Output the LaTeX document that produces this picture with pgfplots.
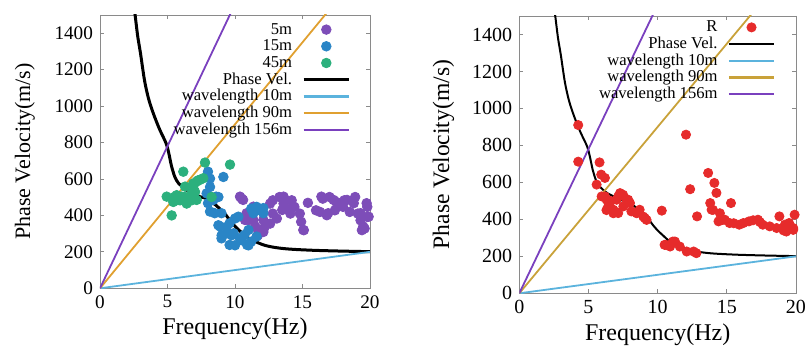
\documentclass[border=0pt]{standalone}
\usepackage{fontspec}
\setmainfont{Liberation Serif}
\usepackage{pgfplots}
\pgfplotsset{compat=1.18}
\definecolor{c5m}{HTML}{7D4DB8}
\definecolor{c15m}{HTML}{2A85C6}
\definecolor{c45m}{HTML}{2CB07D}
\definecolor{cwl10}{HTML}{5BB3DD}
\definecolor{cwl90}{HTML}{E0A030}
\definecolor{cwl90r}{HTML}{C9A23A}
\definecolor{cwl156}{HTML}{7A40BE}
\definecolor{cred}{HTML}{E62B2B}
\definecolor{axgray}{HTML}{8A8A8A}
\pgfplotsset{
 mystyle/.style={
  scale only axis, xmin=0,xmax=20,ymin=0,ymax=1500,
  xtick={0,5,10,15,20}, ytick={0,200,...,1400},
  tick align=inside, major tick length=2pt,
  axis line style={axgray}, every tick/.style={axgray},
  /pgf/number format/assume math mode=true,
  /pgf/number format/1000 sep={},
  ticklabel style={font=\fontsize{9.6}{10}\selectfont},
  legend style={draw=none, fill=none, anchor=north east, font=\fontsize{8.3}{8.3}\selectfont, inner sep=0pt, outer sep=0pt, row sep=0.85pt, column sep=5pt, nodes={inner sep=0pt, text height=6pt, text depth=1.5pt}},
  legend plot pos=right,
  legend cell align=right,
  legend image code/.code={\draw[mark repeat=2,mark phase=2,##1] plot coordinates {(0cm,0cm) (0.4cm,0cm) (0.79cm,0cm)};},
 },
 wl/.style={line width=0.9pt, legend image post style={line width=1.25pt}},
}
\pgfplotstableread{
f v
2.50 1560
2.60 1500
2.80 1380
3.00 1290
3.30 1140
3.60 1040
3.95 960
4.40 875
4.90 795
5.10 740
5.30 670
5.55 610
5.80 578
6.05 560
6.40 540
6.80 525
7.40 503
7.80 495
8.15 480
8.60 455
8.90 435
9.30 405
9.65 370
10.00 340
10.40 312
10.80 285
11.20 268
11.70 250
12.20 236
12.80 226
13.60 218
14.50 213
16.00 208
18.00 204
20.00 201
}\phasevel
\begin{document}
\begin{tikzpicture}
\useasboundingbox (0,0) rectangle (405.5pt,173.5pt);
\begin{axis}[mystyle, at={(50pt,29.35pt)}, anchor=south west, width=135pt, height=136.65pt,
 xlabel={Frequency(Hz)}, ylabel={Phase Velocity(m/s)},
 xlabel style={at={(axis description cs:0.5,-0.1465)},anchor=center,font=\fontsize{12}{12}\selectfont},
 ylabel style={at={(axis description cs:-0.278,0.5)},anchor=center,font=\fontsize{11}{11}\selectfont},
 legend style={at={(axis description cs:0.926,0.974)}}]
\addplot[only marks, mark=*, mark size=2.4pt, color=c5m] coordinates {
(10.37,503) (10.5,492) (10.6,485) (10.74,375) (10.86,412) (11.0,373) (11.2,420) (11.36,448) (11.36,375) (11.5,340) (11.7,291) (11.7,320) (12.1,309) (12.1,375) (12.2,337) (12.6,355) (12.6,465) (12.8,483) (12.8,410) (13.1,383) (13.3,501) (13.5,430) (13.6,465) (13.6,503) (13.8,440) (14.1,410) (14.2,483) (14.3,448) (14.4,447) (14.8,410) (14.9,365) (15.06,320) (15.1,319) (15.4,469) (16.0,428) (16.3,419) (16.4,503) (16.5,492) (16.8,401) (16.9,412) (17.0,501) (17.3,485) (17.4,428) (17.5,474) (17.8,460) (18.0,447) (18.1,483) (18.3,485) (18.5,419) (18.8,467) (18.9,501) (19.1,410) (19.3,373) (19.3,412) (19.4,319) (19.5,339) (19.6,328) (19.75,467) (19.8,392) (19.8,447) (19.9,393)
};
\addlegendentry{5m}
\addplot[only marks, mark=*, mark size=2.4pt, color=c15m] coordinates {
(7.9,521) (8.0,640) (8.0,467) (8.15,602) (8.15,556) (8.15,421) (8.4,485) (8.5,412) (8.6,503) (8.77,501) (9.0,412) (9.14,611) (8.77,346) (8.9,339) (9.38,337) (9.4,302) (9.6,357) (9.0,274) (9.01,291) (9.6,238) (9.75,291) (9.9,302) (10.0,236) (10.0,383) (10.25,393) (10.37,274) (10.5,264) (10.7,293) (10.9,238) (11.0,236) (11.0,320) (11.2,256) (11.2,437) (11.36,412) (11.6,447) (11.6,284) (11.7,430) (12.1,412) (12.1,440)
};
\addlegendentry{15m}
\addplot[only marks, mark=*, mark size=2.4pt, color=c45m] coordinates {
(4.94,503) (5.31,400) (5.43,474) (5.56,503) (5.68,511) (5.8,485) (5.93,483) (6.05,503) (6.17,640) (6.3,501) (6.3,558) (6.42,465) (6.6,485) (6.79,483) (6.79,521) (6.91,558) (6.91,575) (7.04,529) (7.16,586) (7.16,485) (7.28,593) (7.4,595) (7.65,604) (7.78,690) (8.27,501) (9.63,679)
};
\addlegendentry{45m}
\addplot[black, line width=1.5pt, smooth] table[x=f,y=v] {\phasevel};
\addlegendentry{Phase Vel.}
\addplot[cwl10, wl] coordinates {(0,0) (20,200)};
\addlegendentry{wavelength 10m}
\addplot[cwl90, wl] coordinates {(0,0) (20,1800)};
\addlegendentry{wavelength 90m}
\addplot[cwl156, wl] coordinates {(0,0) (20,3120)};
\addlegendentry{wavelength 156m}
\end{axis}
\begin{axis}[mystyle, at={(259.65pt,26.85pt)}, anchor=south west, width=138.35pt, height=138.65pt,
 ticklabel style={font=\fontsize{10}{10}\selectfont},
 xlabel={Frequency(Hz)}, ylabel={Phase Velocity(m/s)},
 xlabel style={at={(axis description cs:0.5,-0.151)},anchor=center,font=\fontsize{12}{12}\selectfont},
 ylabel style={at={(axis description cs:-0.274,0.5)},anchor=center,font=\fontsize{11.8}{11.8}\selectfont},
 legend style={at={(axis description cs:0.924,0.986)}}]
\addplot[only marks, mark=*, mark size=2.3pt, color=cred] coordinates {
(4.26,910) (4.26,712) (5.8,708) (5.92,642) (6.19,624) (5.59,588) (5.95,524) (6.19,524) (6.31,506) (6.43,470) (6.55,470) (6.8,433) (6.79,452) (6.6,500) (6.3,450) (7.0,440) (7.04,506) (7.15,524) (7.28,542) (7.5,533) (7.52,470) (7.15,434) (7.76,506) (7.87,506) (8.0,488) (8.1,443) (8.48,433) (8.7,452) (8.96,415) (9.07,407) (9.2,397) (10.3,447) (10.5,262) (10.6,262) (10.9,253) (11.1,280) (11.25,280) (11.6,253) (12.1,226) (12.6,226) (12.8,217) (12.05,858) (12.35,563) (12.85,416) (13.65,651) (14.1,597) (14.25,543) (13.8,488) (13.9,452) (14.0,451) (14.4,389) (14.5,433) (14.7,397) (14.85,398) (15.3,488) (15.2,380) (15.5,379) (15.9,371) (16.2,380) (16.6,389) (16.9,395) (17.25,398) (17.6,371) (17.4,385) (18.1,362) (18.6,353) (18.8,416) (19.2,371) (19.1,340) (19.3,334) (19.6,361) (19.8,353) (19.8,343) (19.9,425) (19.5,380)
};
\addlegendentry{R}
\addplot[black, line width=1pt, smooth] table[x=f,y=v] {\phasevel};
\addlegendentry{Phase Vel.}
\addplot[cwl10, wl] coordinates {(0,0) (20,200)};
\addlegendentry{wavelength 10m}
\addplot[cwl90r, wl] coordinates {(0,0) (20,1800)};
\addlegendentry{wavelength 90m}
\addplot[cwl156, wl] coordinates {(0,0) (20,3120)};
\addlegendentry{wavelength 156m}
\end{axis}
\end{tikzpicture}
\end{document}
